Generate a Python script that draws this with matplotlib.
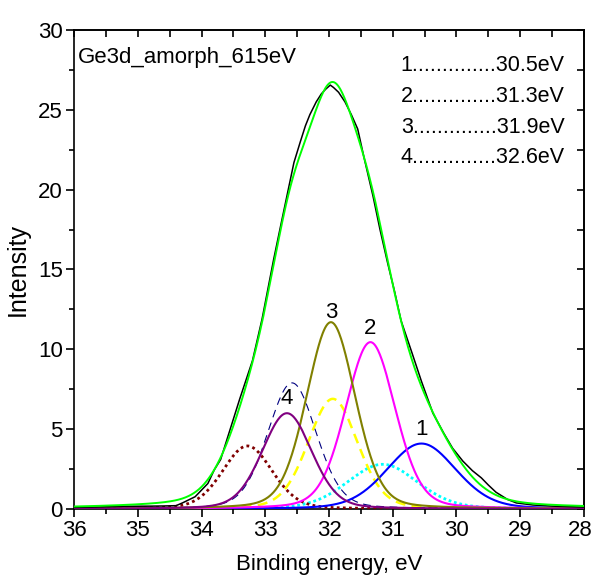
import numpy as np
import matplotlib.pyplot as plt
from matplotlib.transforms import ScaledTranslation

plt.rcParams['font.family'] = ['Liberation Sans', 'DejaVu Sans']

be_data = [36.0, 35.6, 35.2, 34.8, 34.6, 34.4, 34.3, 34.1, 33.9, 33.8, 33.7, 33.55,
           33.4, 33.2, 33.05, 32.87, 32.75, 32.65, 32.55, 32.45, 32.37, 32.3, 32.2,
           32.12, 32.05, 31.98, 31.93, 31.85, 31.75, 31.65, 31.55, 31.45, 31.31, 31.2,
           31.08, 30.97, 30.87, 30.7, 30.55, 30.37, 30.2, 30.06, 29.9, 29.75, 29.61,
           29.5, 29.38, 29.2, 29.06, 28.8, 28.5, 28.0]
int_data = [0.10, 0.13, 0.17, 0.18, 0.19, 0.21, 0.38, 0.77, 1.6, 2.45, 3.1, 5.0,
            6.9, 9.3, 11.9, 15.6, 17.9, 19.8, 21.7, 23.0, 24.0, 24.7, 25.5,
            26.0, 26.3, 26.55, 26.4, 26.1, 25.5, 24.7, 23.8, 22.0, 19.6, 17.5,
            15.4, 13.6, 11.8, 9.8, 8.0, 6.0, 4.75, 3.8, 3.0, 2.4, 1.95,
            1.5, 1.05, 0.6, 0.38, 0.25, 0.18, 0.12]

# ---- fit components: 3d5/2 peaks and their 3d3/2 partners ----
main_pos = [30.55, 31.35, 31.97, 32.66]
main_height = [4.1, 10.45, 11.7, 6.0]
main_fwhm = [1.28, 0.92, 0.9, 0.92]
main_colors = ['#0000ff', '#ff00ff', '#808000', '#800080']

partner_pos = [31.16, 31.94, 32.58, 33.28]
partner_height = [2.8, 6.9, 7.9, 3.95]
partner_fwhm = [1.3, 0.92, 0.9, 0.92]
partner_colors = ['#00ffff', '#ffff00', '#000080', '#800000']
partner_styles = [(0, (1, 1)), (0, (4, 2.5)), (0, (7, 5)), (0, (1, 1.2))]
partner_widths = [2.0, 1.8, 0.8, 2.0]

peak_labels = ['1', '2', '3', '4']
label_y = [4.95, 11.3, 12.3, 6.9]
legend_lines = ['1..............30.5eV', '2..............31.3eV',
                '3..............31.9eV', '4..............32.6eV']

eta = 0.2
be = np.linspace(28, 36, 801)


def pvoigt(x, c, h, w):
    g = np.exp(-4 * np.log(2) * ((x - c) / w) ** 2)
    l = 1 / (1 + 4 * ((x - c) / w) ** 2)
    return h * ((1 - eta) * g + eta * l)


fig, ax = plt.subplots(figsize=(5.95, 5.82), dpi=100)
fig.subplots_adjust(left=0.1244, right=0.9815, bottom=0.1254, top=0.9485)

envelope = np.zeros_like(be)
for c, h, w, col, ls, lw in zip(partner_pos, partner_height, partner_fwhm,
                                partner_colors, partner_styles, partner_widths):
    y = pvoigt(be, c, h, w)
    envelope += y
    ax.plot(be, y, color=col, linestyle=ls, linewidth=lw, zorder=3)

for c, h, w, col in zip(main_pos, main_height, main_fwhm, main_colors):
    y = pvoigt(be, c, h, w)
    envelope += y
    ax.plot(be, y, color=col, linewidth=1.5, zorder=4)

ax.plot(be_data, int_data, color='black', linewidth=1.1, zorder=5)
ax.plot(be, envelope, color='#00ff00', linewidth=1.4, zorder=6)

fs = 16
for c, lab, yy in zip(main_pos, peak_labels, label_y):
    ax.text(c, yy, lab, fontsize=fs, ha='center', va='center')

ax.text(0.008, 0.965, 'Ge3d_amorph_615eV', transform=ax.transAxes,
        fontsize=fs, ha='left', va='top')
for i, s in enumerate(legend_lines):
    ax.text(0.962, 0.925 - i * 0.064, s, transform=ax.transAxes,
            fontsize=15.5, ha='right', va='center')

ax.set_xlim(36, 28)
ax.set_ylim(0, 30)
ax.set_xticks(np.arange(28, 37, 1))
ax.set_xticks(np.arange(28, 36.5, 0.5), minor=True)
ax.set_yticks(np.arange(0, 31, 5))
ax.set_yticks(np.arange(0, 30.1, 2.5), minor=True)
ax.tick_params(axis='both', which='major', direction='out', length=6, width=1.2,
               labelsize=fs, pad=2)
ax.tick_params(axis='both', which='minor', direction='out', length=3.5, width=1.2)
ax.tick_params(top=False, right=False)

# keep the last x label inside the canvas
fig.canvas.draw()
for t in ax.get_xticklabels():
    if t.get_text() == '28':
        t.set_transform(t.get_transform() + ScaledTranslation(-3 / 72, 0, fig.dpi_scale_trans))

top = ax.secondary_xaxis('top')
top.set_xticks(np.arange(28, 37, 1))
top.set_xticks(np.arange(28, 36.5, 0.5), minor=True)
top.tick_params(which='both', direction='in', length=5, width=1.2, labeltop=False)
right = ax.secondary_yaxis('right')
right.set_yticks(np.arange(0, 31, 5))
right.set_yticks(np.arange(0, 30.1, 2.5), minor=True)
right.tick_params(which='both', direction='in', length=5, width=1.2, labelright=False)

for sp in list(ax.spines.values()) + [top.spines['top'], right.spines['right']]:
    sp.set_linewidth(1.2)

ax.set_xlabel('Binding energy, eV', fontsize=fs, labelpad=9)
ax.set_ylabel('Intensity', fontsize=18, labelpad=6)

fig.savefig('out.png', dpi=100)
